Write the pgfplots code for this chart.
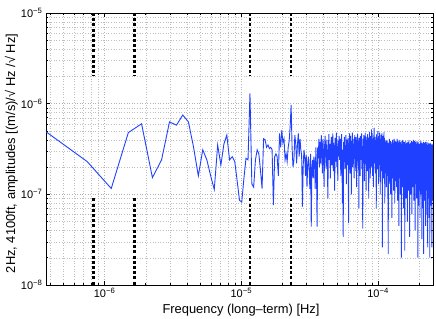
\documentclass[border=0pt]{standalone}
\usepackage{fontspec}
\setmainfont{Liberation Sans}
\usepackage{pgfplots}
\pgfplotsset{compat=1.18}
\definecolor{mblue}{rgb}{0.12,0.25,1}
\begin{document}
\begin{tikzpicture}
\path[use as bounding box] (-46bp,-34bp) rectangle (390bp,285bp);
\begin{axis}[at={(0,0)}, anchor=south west, scale only axis,
  width=387bp, height=272bp,
  xmode=log, ymode=log,
  xmin=3.73e-7, xmax=2.52e-4, ymin=1e-8, ymax=1e-5,
  xtick={1e-6,1e-5,1e-4},
  xticklabels={{10\textsuperscript{−6}},{10\textsuperscript{−5}},{10\textsuperscript{−4}}},
  minor xtick={4e-7,5e-7,6e-7,7e-7,8e-7,9e-7,2e-6,3e-6,4e-6,5e-6,6e-6,7e-6,8e-6,9e-6,2e-5,3e-5,4e-5,5e-5,6e-5,7e-5,8e-5,9e-5,2e-4},
  ytick={1e-8,1e-7,1e-6,1e-5},
  yticklabels={{10\textsuperscript{−8}},{10\textsuperscript{−7}},{10\textsuperscript{−6}},{10\textsuperscript{−5}}},
  minor ytick={2e-8,3e-8,4e-8,5e-8,6e-8,7e-8,8e-8,9e-8,2e-7,3e-7,4e-7,5e-7,6e-7,7e-7,8e-7,9e-7,2e-6,3e-6,4e-6,5e-6,6e-6,7e-6,8e-6,9e-6},
  tick align=inside, major tick length=4bp, minor tick length=2bp,
  every tick/.style={black, line width=0.5bp},
  axis line style={black, line width=0.6bp},
  grid=both,
  major grid style={gray!60, line width=0.4bp, dash pattern=on 0.8bp off 1.8bp},
  minor grid style={gray!50, line width=0.4bp, dash pattern=on 0.8bp off 1.8bp},
  xticklabel style={font=\fontsize{11bp}{13bp}\selectfont},
  yticklabel style={font=\fontsize{11bp}{13bp}\selectfont},
  xlabel={Frequency (long--term) [Hz]},
  ylabel={2Hz, 4100ft, amplitudes [(m/s)/√ Hz /√ Hz]},
  every axis x label/.style={at={(axis description cs:0.504,-0.103)}, anchor=base, font=\fontsize{12.9bp}{15bp}\selectfont},
  every axis y label/.style={at={(axis description cs:-0.080,0.4835)}, rotate=90, anchor=base, font=\fontsize{12.9bp}{15bp}\selectfont},
]
\addplot[mblue, line width=0.9pt] table[header=false, row sep=\\,
  x expr={(\coordindex+1)*3.73e-7}, y expr={\thisrowno{0}*1e-8}] {
49\\ 23\\ 11.6\\ 48\\ 60\\ 15.3\\ 24\\ 63\\ 58\\ 75\\ 63\\ 33\\ 16\\ 31\\ 24\\ 16\\ 11.3\\ 35\\ 21\\ 36\\
45\\ 24\\ 26\\ 23\\ 14\\ 8.6\\ 8.2\\ 15\\ 25\\ 24\\ 130\\ 13\\ 12\\ 24\\ 31\\ 28\\ 18.5\\ 11.6\\ 41\\ 40\\
33\\ 35\\ 32\\ 33\\ 31\\ 7.6\\ 26\\ 28\\ 26\\ 16\\ 47\\ 33\\ 51\\ 37\\ 41\\ 24\\ 28\\ 23\\ 33\\ 39\\
56\\ 97\\ 33\\ 20\\ 24\\ 45\\ 36\\ 22\\ 36\\ 47\\ 26\\ 41\\ 31\\ 27\\ 7.3\\ 21\\ 31\\ 26\\ 16\\ 27\\
12\\ 22\\ 26\\ 18.5\\ 11.5\\ 28\\ 4.4\\ 20\\ 24\\ 15\\ 26\\ 22\\ 11.5\\ 33\\ 20\\ 4.4\\ 33\\ 25\\ 41\\ 20\\
38\\ 22\\ 45\\ 30\\ 17\\ 41\\ 27\\ 12\\ 35\\ 44\\ 25\\ 19\\ 40\\ 31\\ 9\\ 28\\ 46\\ 24\\ 36\\ 15\\
33\\ 43\\ 21\\ 29\\ 47\\ 18\\ 37\\ 26\\ 11\\ 42\\ 32\\ 23\\ 48\\ 20\\ 34\\ 14\\ 39\\ 27\\ 44\\ 24\\
30\\ 41\\ 16\\ 36\\ 46\\ 22\\ 8\\ 31\\ 3.4\\ 38\\ 25\\ 43\\ 19\\ 35\\ 28\\ 45\\ 13\\ 33\\ 40\\ 21\\
29\\ 42\\ 4.8\\ 37\\ 24\\ 47\\ 17\\ 32\\ 44\\ 26\\ 10\\ 39\\ 30\\ 48\\ 20\\ 36\\ 23\\ 41\\ 15\\ 34\\
45\\ 27\\ 38\\ 18\\ 43\\ 31\\ 12\\ 40\\ 25\\ 46\\ 33\\ 21\\ 37\\ 7\\ 42\\ 28\\ 35\\ 16\\ 44\\ 30\\
24\\ 39\\ 47\\ 19\\ 34\\ 27\\ 4.2\\ 41\\ 36\\ 22\\ 45\\ 29\\ 14\\ 38\\ 32\\ 48\\ 23\\ 40\\ 11\\ 35\\
26\\ 43\\ 31\\ 18\\ 46\\ 37\\ 21\\ 33\\ 9\\ 42\\ 28\\ 49\\ 25\\ 36\\ 15\\ 44\\ 30\\ 39\\ 20\\ 52\\
34\\ 27\\ 47\\ 16\\ 41\\ 24\\ 38\\ 12\\ 45\\ 31\\ 54\\ 22\\ 36\\ 29\\ 43\\ 17\\ 40\\ 26\\ 33\\ 7\\
46\\ 28\\ 37\\ 19\\ 42\\ 32\\ 50\\ 24\\ 35\\ 13\\ 44\\ 27\\ 39\\ 21\\ 48\\ 30\\ 36\\ 10\\ 41\\ 25\\
33\\ 45\\ 18\\ 38\\ 29\\ 47\\ 23\\ 2.6\\ 40\\ 34\\ 26\\ 44\\ 15\\ 37\\ 31\\ 49\\ 22\\ 42\\ 28\\ 8\\
31\\ 38\\ 17\\ 34\\ 23\\ 40\\ 27\\ 12\\ 36\\ 20\\ 30\\ 39\\ 16\\ 33\\ 26\\ 9\\ 37\\ 2.2\\ 29\\ 22\\
35\\ 18\\ 32\\ 41\\ 25\\ 13\\ 37\\ 28\\ 21\\ 39\\ 10\\ 31\\ 24\\ 38\\ 17\\ 34\\ 27\\ 5.5\\ 36\\ 20\\
30\\ 40\\ 15\\ 33\\ 23\\ 37\\ 26\\ 11\\ 35\\ 19\\ 41\\ 29\\ 16\\ 32\\ 8\\ 36\\ 22\\ 39\\ 25\\ 14\\
34\\ 27\\ 38\\ 18\\ 31\\ 12\\ 36\\ 24\\ 41\\ 20\\ 28\\ 8.5\\ 33\\ 26\\ 39\\ 16\\ 37\\ 23\\ 30\\ 4.5\\
35\\ 21\\ 40\\ 27\\ 15\\ 32\\ 37\\ 18\\ 29\\ 10\\ 38\\ 25\\ 33\\ 13\\ 36\\ 22\\ 2.0\\ 31\\ 26\\ 39\\
19\\ 34\\ 28\\ 12\\ 37\\ 23\\ 40\\ 17\\ 31\\ 26\\ 7\\ 38\\ 21\\ 32\\ 15\\ 35\\ 24\\ 38\\ 18\\ 2.4\\
30\\ 36\\ 22\\ 12\\ 33\\ 26\\ 39\\ 17\\ 29\\ 9\\ 35\\ 23\\ 37\\ 20\\ 31\\ 14\\ 34\\ 25\\ 5\\ 36\\
27\\ 19\\ 38\\ 16\\ 32\\ 24\\ 11\\ 35\\ 21\\ 30\\ 40\\ 17\\ 33\\ 26\\ 8\\ 3.4\\ 36\\ 22\\ 29\\ 13\\
34\\ 25\\ 37\\ 18\\ 31\\ 10\\ 33\\ 23\\ 39\\ 15\\ 28\\ 35\\ 20\\ 6\\ 32\\ 26\\ 38\\ 17\\ 30\\ 12\\
36\\ 24\\ 33\\ 19\\ 40\\ 14\\ 29\\ 34\\ 22\\ 8.5\\ 37\\ 27\\ 16\\ 32\\ 25\\ 39\\ 12\\ 34\\ 21\\ 4\\
31\\ 35\\ 18\\ 28\\ 38\\ 13\\ 33\\ 23\\ 36\\ 16\\ 30\\ 26\\ 9\\ 34\\ 20\\ 39\\ 24\\ 32\\ 12\\ 27\\
37\\ 17\\ 33\\ 2.0\\ 29\\ 22\\ 38\\ 15\\ 31\\ 26\\ 7.5\\ 35\\ 19\\ 33\\ 25\\ 11\\ 36\\ 21\\ 30\\ 16\\
34\\ 26\\ 5.5\\ 32\\ 23\\ 37\\ 14\\ 29\\ 33\\ 18\\ 39\\ 24\\ 10\\ 31\\ 27\\ 15\\ 35\\ 21\\ 32\\ 3.2\\
28\\ 37\\ 17\\ 32\\ 25\\ 12\\ 34\\ 22\\ 30\\ 7\\ 36\\ 26\\ 15\\ 33\\ 20\\ 38\\ 2.2\\ 31\\ 24\\ 35\\
17\\ 29\\ 33\\ 19\\ 37\\ 12\\ 32\\ 25\\ 8.5\\ 35\\ 22\\ 30\\ 14\\ 38\\ 23\\ 28\\ 4.5\\ 33\\ 18\\ 34\\
25\\ 31\\ 11\\ 36\\ 21\\ 33\\ 16\\ 29\\ 38\\ 24\\ 6\\ 32\\ 26\\ 13\\ 34\\ 19\\ 30\\ 2.6\\ 35\\ 23\\
28\\ 15\\ 33\\ 37\\ 20\\ 9\\ 31\\ 25\\ 35\\ 17\\ 29\\ 5.5\\ 33\\ 22\\ 36\\ 12\\ 32\\ 24\\ 27\\ 2.0\\
34\\ 18\\ 30\\ 37\\ 14\\ 26\\ 33\\ 10\\ 31\\ 23\\ 36\\ 16\\ 28\\ 7.5\\ 33\\ 21\\ 35\\ 12\\ 31\\ 25\\
18\\ 29\\ 2.6\\ 34\\ 22\\ 36\\ 15\\ 30\\ 24\\ 8.5\\ 32\\ 19\\ 35\\ 13\\ 27\\ 31\\
};
\addplot[black, line width=2.6bp, dash pattern=on 3bp off 2.2bp] coordinates {(8.27e-7,1e-5) (8.27e-7,2e-6)};
\addplot[black, line width=2.6bp, dash pattern=on 3bp off 2.2bp] coordinates {(8.27e-7,9e-8) (8.27e-7,1e-8)};
\addplot[black, line width=2.6bp, dash pattern=on 3bp off 2.2bp] coordinates {(1.653e-6,1e-5) (1.653e-6,2e-6)};
\addplot[black, line width=2.6bp, dash pattern=on 3bp off 2.2bp] coordinates {(1.653e-6,9e-8) (1.653e-6,1e-8)};
\addplot[black, line width=2.6bp, dash pattern=on 3bp off 2.2bp] coordinates {(1.157e-5,1e-5) (1.157e-5,2e-6)};
\addplot[black, line width=2.6bp, dash pattern=on 3bp off 2.2bp] coordinates {(1.157e-5,9e-8) (1.157e-5,1e-8)};
\addplot[black, line width=2.6bp, dash pattern=on 3bp off 2.2bp] coordinates {(2.315e-5,1e-5) (2.315e-5,2e-6)};
\addplot[black, line width=2.6bp, dash pattern=on 3bp off 2.2bp] coordinates {(2.315e-5,9e-8) (2.315e-5,1e-8)};
\end{axis}
\end{tikzpicture}
\end{document}
